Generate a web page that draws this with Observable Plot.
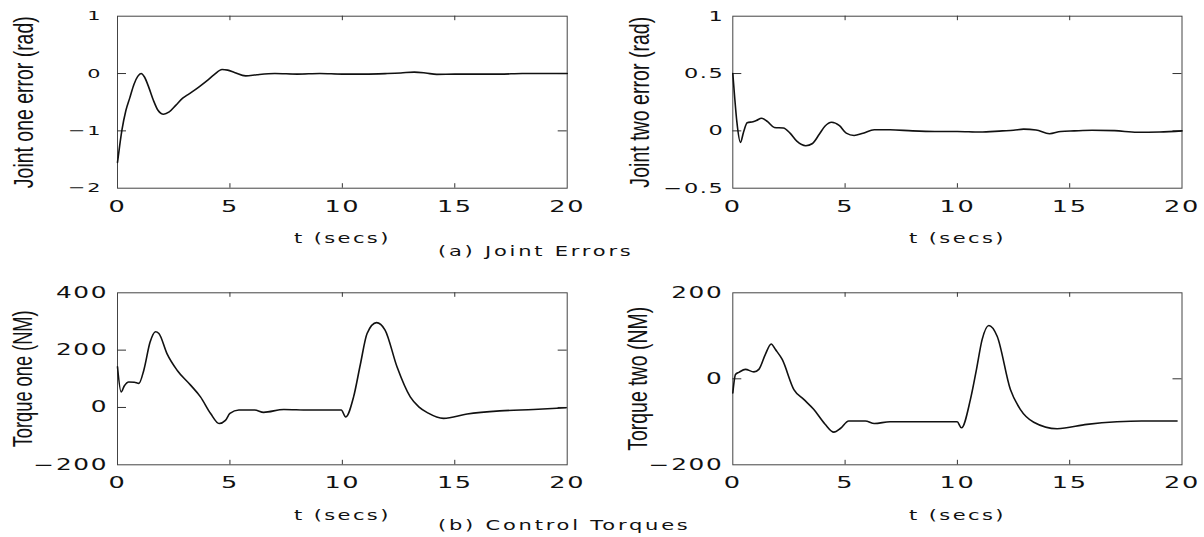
<!DOCTYPE html>
<html><head><meta charset="utf-8">
<script src="https://cdn.jsdelivr.net/npm/d3@7"></script>
<script src="https://cdn.jsdelivr.net/npm/@observablehq/plot@0.6"></script>
<style>
body{margin:0;background:#fff;}
#fig{position:relative;width:1204px;height:537px;overflow:hidden;background:#fff;}
.panel{position:absolute;}
.title{position:absolute;font-family:"DejaVu Sans";font-size:14px;letter-spacing:1.85px;transform:scaleX(1.5);transform-origin:0 50%;white-space:nowrap;color:#111;line-height:1;}
</style></head><body><div id="fig"></div>
<script>
// ---- data ----
const xTicks = [0, 5, 10, 15, 20];
const xLabel = "t (secs)";

const j1Label = "Joint one error (rad)";
const j1Ticks = [-2, -1, 0, 1];
const j1T = [0, 0.1, 0.2, 0.37, 0.55, 0.73, 0.9, 1.05, 1.2, 1.4, 1.6, 1.8, 2.05, 2.3, 2.6, 2.9, 3.2, 3.6, 4.0, 4.3, 4.65, 4.9, 5.2, 5.7, 6.2, 7.0, 8.0, 9.0, 10.0, 11.0, 12.0, 12.6, 13.2, 13.7, 14.2, 15, 16, 17, 18, 19, 20];
const j1V = [-1.55, -1.25, -0.98, -0.65, -0.42, -0.19, -0.05, 0.0, -0.06, -0.25, -0.47, -0.64, -0.71, -0.67, -0.55, -0.43, -0.35, -0.24, -0.12, -0.02, 0.07, 0.06, 0.02, -0.04, -0.02, 0.0, -0.01, 0.0, -0.01, -0.01, 0.0, 0.01, 0.025, 0.01, -0.015, -0.01, -0.01, -0.01, 0.0, 0.0, 0.0];

const j2Label = "Joint two error (rad)";
const j2Ticks = [-0.5, 0, 0.5, 1];
const j2T = [0, 0.08, 0.18, 0.34, 0.48, 0.64, 0.9, 1.05, 1.28, 1.55, 1.85, 2.25, 2.55, 2.85, 3.25, 3.55, 3.85, 4.1, 4.4, 4.75, 5.05, 5.4, 5.8, 6.3, 7, 8, 9, 10, 11, 12, 12.5, 12.95, 13.5, 14.1, 14.6, 15.2, 16, 17, 18, 19, 20];
const j2V = [0.5, 0.3, 0.08, -0.1, -0.01, 0.07, 0.08, 0.09, 0.11, 0.08, 0.03, 0.025, -0.02, -0.09, -0.13, -0.11, -0.03, 0.04, 0.075, 0.045, -0.02, -0.04, -0.02, 0.01, 0.01, 0.0, -0.005, -0.005, -0.01, 0.0, 0.005, 0.015, 0.008, -0.025, -0.005, 0.0, 0.005, 0.002, -0.012, -0.01, 0.0];

const q1Label = "Torque one (NM)";
const q1Ticks = [-200, 0, 200, 400];
const q1T = [0, 0.16, 0.3, 0.5, 0.75, 0.95, 1.17, 1.45, 1.69, 1.84, 2.2, 2.65, 3.25, 3.69, 4.14, 4.52, 4.8, 5.0, 5.4, 6.1, 6.5, 7.4, 8.5, 9.5, 9.95, 10.15, 10.5, 10.8, 11.1, 11.52, 11.9, 12.43, 13.02, 13.4, 13.8, 14.5, 15.55, 17.0, 18.5, 19.95];
const q1V = [142, 54, 75, 89, 88, 84, 130, 228, 264, 258, 188, 130, 78, 37, -21, -56, -45, -21, -9, -9, -17, -7, -9, -9, -9, -33, 37, 150, 258, 296, 270, 142, 37, 2, -19, -38, -23, -12, -7, -1];

const q2Label = "Torque two (NM)";
const q2Ticks = [-200, 0, 200];
const q2T = [0, 0.12, 0.27, 0.56, 0.94, 1.16, 1.45, 1.71, 1.9, 2.2, 2.72, 3.16, 3.6, 4.1, 4.5, 4.8, 5.16, 5.9, 6.3, 7, 8, 9, 9.99, 10.18, 10.58, 10.85, 11.1, 11.4, 11.77, 12.36, 12.8, 13.4, 14.44, 15.77, 17.1, 18.2, 19.78];
const q2V = [-33, 10, 15, 22, 16, 22, 57, 81, 68, 45, -25, -48, -71, -105, -124, -115, -98, -98, -104, -100, -100, -100, -100, -114, -48, 22, 91, 124, 99, -25, -71, -101, -116, -106, -100, -98, -98];

const titleA = "(a) Joint Errors";
const titleB = "(b) Control Torques";

// ---- rendering ----
const fig = document.getElementById("fig");
const fmt = d => (d < 0 ? "\u2212" : "") + Math.abs(d);

function widen(nodes, s, ls) {
  nodes.forEach(t => {
    const tr = t.getAttribute("transform") || "";
    t.setAttribute("transform", `${tr} scale(${s},1)`);
    t.style.letterSpacing = ls + "px";
  });
}

function panel(o) {
  const {left, top, width, height, x0, x1, y0, y1} = o;
  const pw = x1 - x0, ph = y1 - y0;
  const data = o.t.map((t, i) => ({t, v: o.v[i]}));
  const [ymin, ymax] = o.yDomain;
  const inner = o.yTicks.filter(d => d > ymin && d < ymax);
  const innerX = xTicks.slice(1, -1);
  const chart = Plot.plot({
    width, height,
    marginLeft: x0 - left, marginRight: left + width - x1,
    marginTop: y0 - top, marginBottom: top + height - y1,
    x: {domain: [0, 20]},
    y: {domain: o.yDomain},
    style: {fontFamily: "DejaVu Sans", fontSize: "15px", color: "#111", background: "transparent", overflow: "visible"},
    marks: [
      Plot.frame({stroke: "#444", strokeWidth: 1}),
      Plot.tickY(inner, {y: d => d, insetRight: pw - 9, stroke: "#333"}),
      Plot.tickY(inner, {y: d => d, insetLeft: pw - 9, stroke: "#333"}),
      Plot.tickX(innerX, {x: d => d, insetBottom: ph - 4.5, stroke: "#333"}),
      Plot.tickX(innerX, {x: d => d, insetTop: ph - 4.5, stroke: "#333"}),
      Plot.axisX(xTicks, {tickSize: 0, tickPadding: o.xPad, fontSize: 16, label: null, tickFormat: fmt}),
      Plot.axisY(o.yTicks, {tickSize: 0, tickPadding: o.yPad, fontSize: o.yFont, label: null, tickFormat: fmt}),
      Plot.line(data, {x: "t", y: "v", curve: "monotone-x", stroke: "#111", strokeWidth: 1.6}),
      Plot.text([o.yLabel], {text: d => d, frameAnchor: "left", textAnchor: "middle", rotate: -90, dx: o.yLabelDx, fontSize: 27, fontFamily: "Liberation Sans", lineAnchor: "middle", fill: "#111"}),
      Plot.text([xLabel], {text: d => d, frameAnchor: "bottom", textAnchor: "middle", dy: o.xLabelDy, fontSize: 14, lineAnchor: "middle", fill: "#111"})
    ]
  });
  chart.classList.add("panel");
  chart.style.left = left + "px";
  chart.style.top = top + "px";
  fig.appendChild(chart);
  widen(chart.querySelectorAll('g[aria-label="x-axis tick label"] text'), 1.6, 1);
  widen(chart.querySelectorAll('g[aria-label="y-axis tick label"] text'), 1.6, 1);
  const texts = chart.querySelectorAll('g[aria-label="text"] text');
  if (texts[0]) {
    const natural = texts[0].getComputedTextLength() || 1;
    const tr = texts[0].getAttribute("transform") || "";
    texts[0].setAttribute("transform", `${tr} scale(${o.yLabelLen / natural},1)`);
  }
  if (texts[1]) widen([texts[1]], 1.5, 1.6);
}

panel({left: 0, top: 0, width: 600, height: 250, x0: 117, x1: 566.7, y0: 15.7, y1: 187.7,
  yDomain: [-2, 1], yTicks: j1Ticks, t: j1T, v: j1V, yLabel: j1Label, yLabelLen: 172, yLabelDx: -93,
  xPad: 12.5, yPad: 15.5, yFont: 13, xLabelDy: 50});
panel({left: 600, top: 0, width: 604, height: 250, x0: 732.3, x1: 1181.5, y0: 15.7, y1: 187.7,
  yDomain: [-0.5, 1], yTicks: j2Ticks, t: j2T, v: j2V, yLabel: j2Label, yLabelLen: 171, yLabelDx: -92,
  xPad: 12.5, yPad: 8.5, yFont: 14, xLabelDy: 50});
panel({left: 0, top: 250, width: 600, height: 287, x0: 117, x1: 566.7, y0: 292.3, y1: 464.3,
  yDomain: [-200, 400], yTicks: q1Ticks, t: q1T, v: q1V, yLabel: q1Label, yLabelLen: 137, yLabelDx: -94,
  xPad: 12, yPad: 9.5, yFont: 15.5, xLabelDy: 51});
panel({left: 600, top: 250, width: 604, height: 287, x0: 732.3, x1: 1181.5, y0: 292.3, y1: 464.3,
  yDomain: [-200, 200], yTicks: q2Ticks, t: q2T, v: q2V, yLabel: q2Label, yLabelLen: 144, yLabelDx: -94,
  xPad: 12, yPad: 9.5, yFont: 15.5, xLabelDy: 51});

for (const [txt, top] of [[titleA, 244], [titleB, 518]]) {
  const d = document.createElement("div");
  d.className = "title";
  d.textContent = txt;
  d.style.left = "438px";
  d.style.top = top + "px";
  fig.appendChild(d);
}
</script>
</body></html>
